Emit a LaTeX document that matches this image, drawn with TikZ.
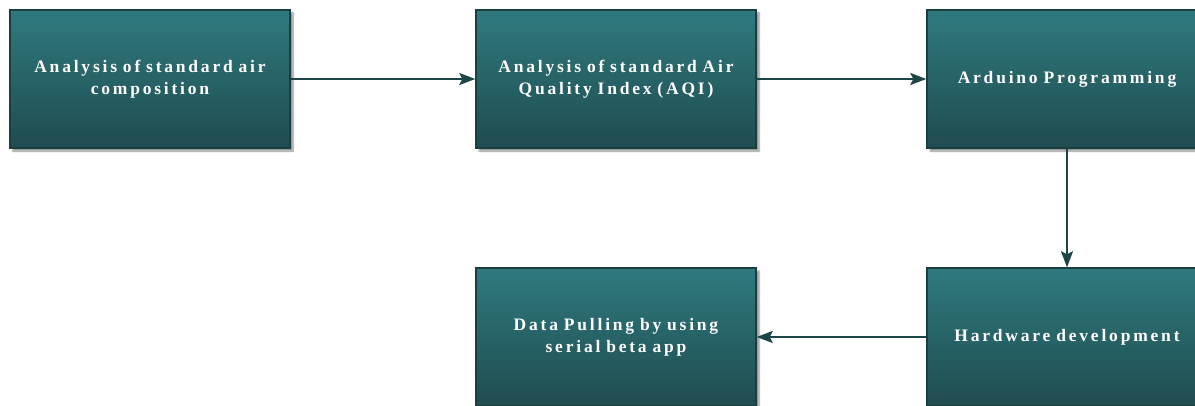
\documentclass[tikz,border=0pt]{standalone}
\usepackage{fontspec}
\setmainfont{Liberation Serif}
\newfontfamily\boxfont{Liberation Serif}[LetterSpace=16, WordSpace=1.3]
\usetikzlibrary{arrows.meta,shadows.blur}
\definecolor{tealtop}{HTML}{2F7A7F}
\definecolor{tealbot}{HTML}{1F4C4F}
\definecolor{tealedge}{HTML}{1B3E40}
\definecolor{arrowcol}{HTML}{1B4547}
\tikzset{
  stagebox/.style={rectangle, minimum width=280pt, minimum height=138pt,
    top color=tealtop, bottom color=tealbot, draw=tealedge, line width=1.4pt,
    blur shadow={shadow xshift=3pt, shadow yshift=-3pt, shadow blur steps=6, shadow opacity=45},
    text=white, font=\boxfont\bfseries\fontsize{17.5}{22}\selectfont,
    align=center, text width=276pt, inner sep=0pt},
  flow/.style={draw=arrowcol, line width=2pt, -{Stealth[length=16pt, width=12pt, inset=3pt]}}
}
\begin{document}
\begin{tikzpicture}[x=1pt, y=-1pt]
  \useasboundingbox (0,0) rectangle (1195,406);
  \clip (0,0) rectangle (1195,406);
  \node[stagebox] (comp) at (150,79) {Analysis of standard air\\composition};
  \node[stagebox] (aqi) at (616,79) {Analysis of standard Air\\Quality Index (AQI)};
  \node[stagebox] (ard) at (1067,79) {Arduino Programming};
  \node[stagebox] (hw) at (1067,337) {Hardware development};
  \node[stagebox] (pull) at (616,337) {Data Pulling by using\\serial beta app};
  \draw[flow] (comp) -- (aqi);
  \draw[flow] (aqi) -- (ard);
  \draw[flow] (ard) -- (hw);
  \draw[flow] (hw) -- (pull);
\end{tikzpicture}
\end{document}
